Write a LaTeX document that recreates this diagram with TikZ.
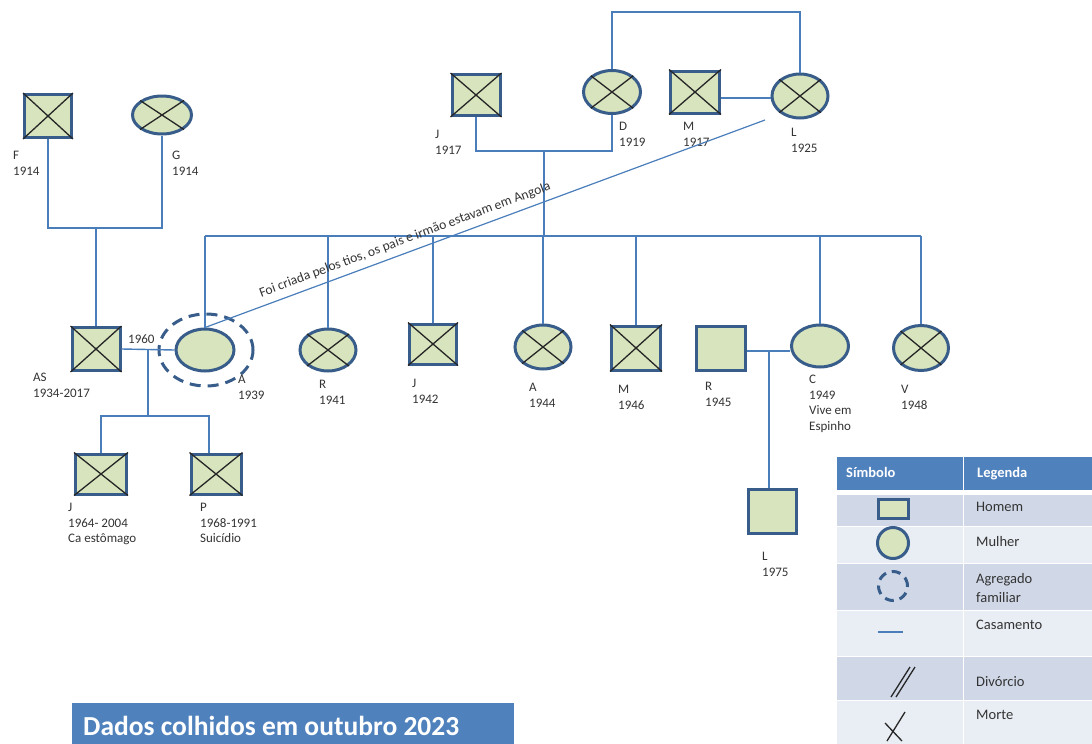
\documentclass[tikz,border=0pt]{standalone}
\usepackage{fontspec}
\setmainfont{Carlito}
\usetikzlibrary{shapes.geometric}

\definecolor{shapeFill}{HTML}{D7E4BD}
\definecolor{shapeEdge}{HTML}{385D8A}
\definecolor{linkBlue}{HTML}{4A7EBB}
\definecolor{headBlue}{HTML}{4F81BD}
\definecolor{rowDark}{HTML}{D0D8E8}
\definecolor{rowLight}{HTML}{E9EDF4}
\definecolor{labelGray}{HTML}{333333}

\tikzset{
  person/.style={draw=shapeEdge, fill=shapeFill, line width=3pt, inner sep=0},
  man/.style n args={2}{person, rectangle, minimum width=#1pt, minimum height=#2pt},
  woman/.style n args={2}{person, ellipse, minimum width=#1pt, minimum height=#2pt},
  conn/.style={draw=linkBlue, line width=1.4pt},
  xline/.style={draw=black!85, line width=1.3pt},
  lbl/.style={font=\fontsize{13}{15.5}\selectfont, text=labelGray, align=left, inner sep=0, anchor=north west},
  legtxt/.style={font=\fontsize{14.5}{19}\selectfont, text=labelGray, align=left, inner sep=0},
  headtxt/.style={anchor=base west, inner sep=0, text=white, font=\bfseries\fontsize{14.5}{17}\selectfont},
  household/.style={ellipse, draw=shapeEdge, line width=3pt, dash pattern=on 11pt off 7pt, inner sep=0},
}
% cross drawn over a deceased person's symbol
\newcommand\deceased[1]{\draw[xline] (#1.north west) -- (#1.south east) (#1.north east) -- (#1.south west);}

\begin{document}
\begin{tikzpicture}[x=1pt, y=-1pt]
\useasboundingbox (0,0) rectangle (1092,744);

% ---------- grandparents, paternal side ----------
\node[man={47}{43}] (F) at (48,116) {};
\node[woman={59}{38}] (G) at (162,115) {};
\deceased{F}\deceased{G}
\node[lbl] (tF) at (13,151) {F\\1914};
\node[lbl] (tG) at (172,151) {G\\1914};

% ---------- couple AS and A ----------
\node[man={48}{43}] (AS) at (96,349) {};
\deceased{AS}
\node[woman={58}{42}] (A) at (205,350) {};
\node[household, minimum width=94pt, minimum height=72pt] (ring) at (206,350) {};
\node[lbl] (tAS) at (33,373) {AS\\1934-2017};
\node[lbl, anchor=west] (t1960) at (128,339) {1960};
\node[lbl] (tA) at (238,375) {A\\1939};

% ---------- their children ----------
\node[man={51}{40}] (Jk) at (101,474) {};
\node[man={50}{40}] (Pk) at (216,474) {};
\deceased{Jk}\deceased{Pk}
\node[lbl] (tJk) at (68,503) {J\\1964- 2004\\Ca estômago};
\node[lbl] (tPk) at (200,503) {P\\1968-1991\\Suicídio};

% ---------- grandparents, maternal side ----------
\node[man={48}{41}] (J17) at (476,95) {};
\node[woman={57}{43}] (D19) at (612,92) {};
\node[man={49}{42}] (M17) at (695,92) {};
\node[woman={56}{44}] (L25) at (800,96) {};
\deceased{J17}\deceased{D19}\deceased{M17}\deceased{L25}
\node[lbl] (tJ17) at (435,130) {J\\1917};
\node[lbl] (tD) at (619,122) {D\\1919};
\node[lbl] (tM17) at (683,122) {M\\1917};
\node[lbl] (tL25) at (791,128) {L\\1925};

% ---------- siblings of A ----------
\node[woman={56}{42}] (R41) at (328,350) {};
\node[man={47}{40}] (J42) at (433,344) {};
\node[woman={56}{44}] (A44) at (543,347) {};
\node[man={49}{44}] (M46) at (636,348) {};
\node[man={49}{44}] (R45) at (721,348) {};
\node[woman={57}{42}] (C49) at (820,346) {};
\node[woman={55}{45}] (V48) at (921,348) {};
\deceased{R41}\deceased{J42}\deceased{A44}\deceased{M46}\deceased{V48}
\node[man={48}{44}] (L75) at (772,511) {};
\node[lbl] (tR41) at (319,380) {R\\1941};
\node[lbl] (tJ42) at (412,379) {J\\1942};
\node[lbl] (tA44) at (529,383) {A\\1944};
\node[lbl] (tM46) at (618,385) {M\\1946};
\node[lbl] (tR45) at (705,382) {R\\1945};
\node[lbl] (tC) at (809,375) {C\\1949\\Vive em\\Espinho};
\node[lbl] (tV) at (901,385) {V\\1948};
\node[lbl] (tL75) at (762,552) {L\\1975};

% ---------- connectors ----------
\coordinate (FG) at (96,228);
\draw[conn] (F.south) |- (FG) -| (G.south);
\draw[conn] (FG) -- (AS.north);

\draw[conn] (AS.east) -- (A.west);
\coordinate (ASk) at (148,416);
\coordinate (ASkR) at (209,416);
\draw[conn] (AS.east -| ASk) -- (ASk);
\draw[conn] (Jk.north) |- (ASkR) -- (ASkR |- Pk.north);

\coordinate (JD) at (544,151);
\draw[conn] (J17.south) |- (JD) -| (D19.south);
\coordinate (DL) at (705,12);
\draw[conn] (D19.north) |- (DL) -| (L25.north);
\coordinate (ML) at (745,98);
\draw[conn] (ML -| M17.east) -- (ML -| L25.west);

\coordinate (sib) at (544,236);
\draw[conn] (JD) -- (sib);
\draw[conn] (A.north |- sib) -- (V48.north |- sib);
\foreach \p in {A,R41,J42,A44,M46,C49,V48}
  \draw[conn] (\p.north |- sib) -- (\p.north);

\coordinate (RC) at (769,351);
\draw[conn] (RC -| R45.east) -- (RC -| C49.west);
\draw[conn] (RC) -- (RC |- L75.north);

\coordinate (Ltail) at (765,120);
\draw[conn, line width=1.2pt] (A.north) --
  node[sloped, above=6pt, pos=0.365, inner sep=0, font=\fontsize{13.6}{15}\selectfont, text=labelGray]
  (note) {Foi criada pelos tios, os pais e irmão estavam em Angola} (Ltail);

% ---------- legend table ----------
\fill[headBlue] (837,457) rectangle (1092,490);
\fill[rowDark]  (837,495)   rectangle (1092,525.5);
\fill[rowLight] (837,526.5) rectangle (1092,562.5);
\fill[rowDark]  (837,563.5) rectangle (1092,609.5);
\fill[rowLight] (837,610.5) rectangle (1092,655.5);
\fill[rowDark]  (837,656.5) rectangle (1092,699.5);
\fill[rowLight] (837,700.5) rectangle (1092,744);
\draw[white, line width=1pt] (963,457) -- (963,744);

\node[headtxt] (hdSym) at (846,477) {Símbolo};
\node[headtxt] (hdLeg) at (977,477) {Legenda};

\node[man={30}{19}] (lgMan) at (893.5,509) {};
\node[person, circle, minimum size=31pt] (lgWoman) at (893,543) {};
\node[household, circle, minimum size=29pt, dash pattern=on 9pt off 6pt] (lgHouse) at (893,586) {};
\coordinate (lgMarA) at (878,632);
\coordinate (lgMarB) at (903,632);
\draw[conn] (lgMarA) -- (lgMarB);
\draw[xline] (891,697) -- (910,667) (896,697) -- (915,667);
\draw[xline] (905,712) -- (887,741) (885,723) -- (902,741);

\node[legtxt, anchor=west] (lgT1) at (976,507) {Homem};
\node[legtxt, anchor=west] (lgT2) at (976,542) {Mulher};
\node[legtxt, anchor=north west] (lgT3) at (976,573) {Agregado\\familiar};
\node[legtxt, anchor=west] (lgT4) at (976,625) {Casamento};
\node[legtxt, anchor=west] (lgT5) at (976,682) {Divórcio};
\node[legtxt, anchor=west] (lgT6) at (976,715) {Morte};

% ---------- footer ----------
\node[rectangle, fill=headBlue, anchor=north west, inner sep=0, minimum width=442pt, minimum height=41pt] (titlebox) at (72,703) {};
\node[anchor=west, inner sep=0, text=white, font=\bfseries\fontsize{27.5}{30}\selectfont] (title) at (83,726) {Dados colhidos em outubro 2023};
\end{tikzpicture}
\end{document}
